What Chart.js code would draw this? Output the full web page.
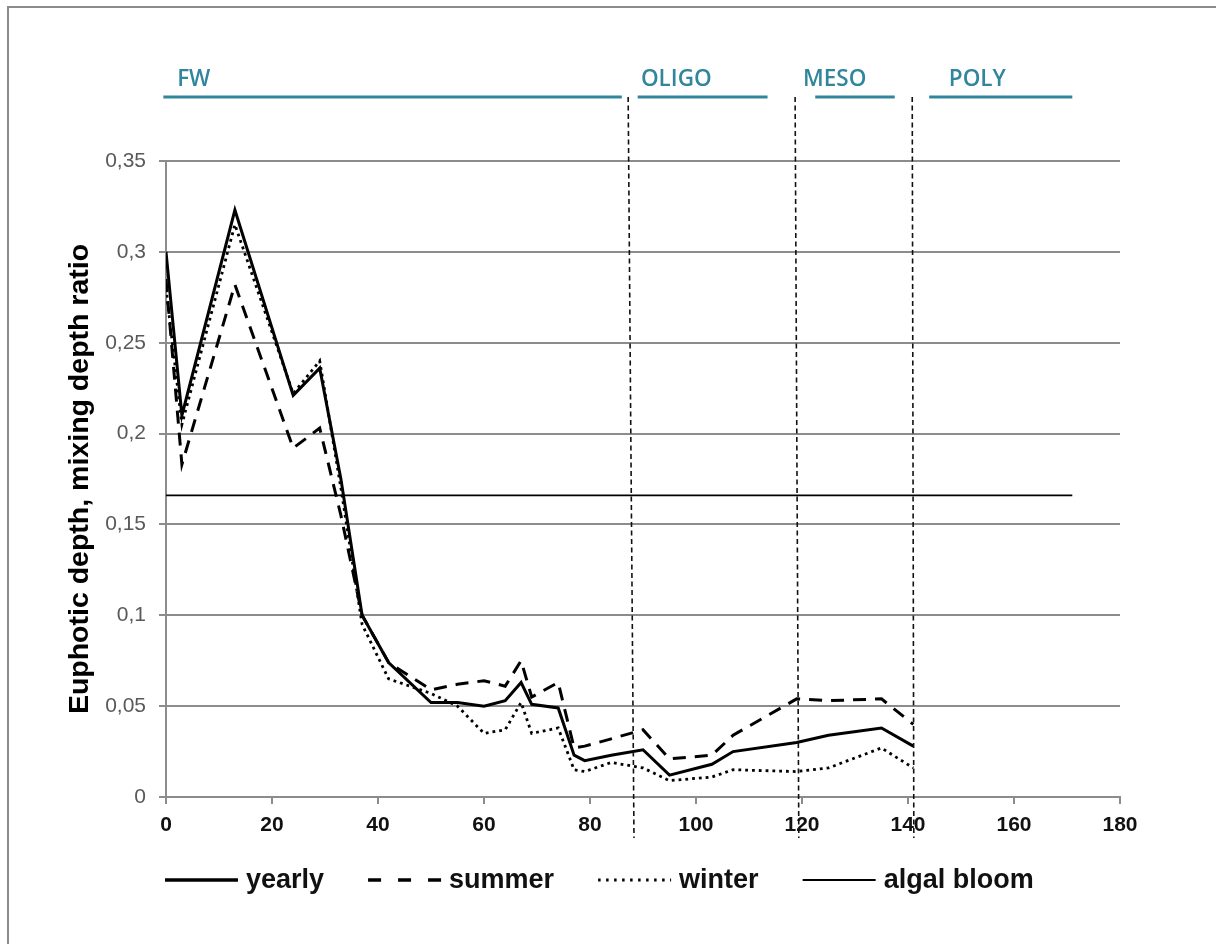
<!DOCTYPE html>
<html>
<head>
<meta charset="utf-8">
<script src="https://cdn.jsdelivr.net/npm/chart.js@4.4.1/dist/chart.umd.min.js"></script>
<style>
  body { margin: 0; background: #fff; }
  #wrap { position: relative; width: 1216px; height: 944px; overflow: hidden; }
  #frame { position: absolute; left: 7px; top: 6px; width: 1300px; height: 1000px; border: 2px solid #8c8c8c; pointer-events: none; }
</style>
</head>
<body>
<div id="wrap">
  <canvas id="chart"></canvas>
  <div id="frame"></div>
</div>
<script>
// distance along the estuary (x) and euphotic/mixing depth ratios
const distance = [0, 3, 13, 24, 29, 33, 37, 42, 50, 55, 60, 64, 67, 69, 74, 77, 79, 84, 90, 95, 103, 107, 119, 125, 135, 141];
const yearly = [0.300, 0.210, 0.323, 0.221, 0.236, 0.175, 0.100, 0.074, 0.052, 0.052, 0.050, 0.053, 0.063, 0.051, 0.049, 0.023, 0.020, 0.023, 0.026, 0.012, 0.018, 0.025, 0.030, 0.034, 0.038, 0.028];
const summer = [0.285, 0.183, 0.282, 0.192, 0.203, 0.155, 0.100, 0.074, 0.059, 0.062, 0.064, 0.061, 0.075, 0.055, 0.063, 0.027, 0.028, 0.032, 0.037, 0.021, 0.023, 0.034, 0.054, 0.053, 0.054, 0.040];
const winter = [0.280, 0.205, 0.315, 0.222, 0.240, 0.170, 0.095, 0.065, 0.057, 0.050, 0.035, 0.037, 0.052, 0.035, 0.038, 0.015, 0.014, 0.019, 0.016, 0.009, 0.011, 0.015, 0.014, 0.016, 0.027, 0.016];
const bloomX = [0, 171];
const bloomLevel = 0.166;

const yTickLabels = ['0', '0,05', '0,1', '0,15', '0,2', '0,25', '0,3', '0,35'];

// salinity zones on top of the plot
const zoneNames = ['FW', 'OLIGO', 'MESO', 'POLY'];
const zoneStart = [-0.5, 89, 122.5, 144];
const zoneEnd = [86, 113.5, 137.5, 171];
const zoneLabelX = [2.1, 89.6, 120.2, 147.7];
const boundaryTop = [87.2, 118.7, 140.8];
const boundaryBottom = [88.3, 119.4, 141.1];

const legendNames = ['yearly', 'summer', 'winter', 'algal bloom'];

function toPoints(xs, ys) {
  return xs.map((x, i) => ({ x: x, y: ys[i] }));
}

const FONT = 'Arial, "Liberation Sans", sans-serif';
Chart.defaults.font.family = FONT;

const zonesPlugin = {
  id: 'zones',
  afterDatasetsDraw(chart) {
    const ctx = chart.ctx;
    const xs = chart.scales.x;
    const area = chart.chartArea;
    const lineY = 97;
    ctx.save();
    // zone bars and names
    ctx.strokeStyle = '#31859c';
    ctx.fillStyle = '#31859c';
    ctx.lineWidth = 3;
    ctx.font = '600 22.5px "Open Sans", sans-serif';
    ctx.textBaseline = 'alphabetic';
    zoneNames.forEach((name, i) => {
      ctx.beginPath();
      ctx.moveTo(xs.getPixelForValue(zoneStart[i]), lineY);
      ctx.lineTo(xs.getPixelForValue(zoneEnd[i]), lineY);
      ctx.stroke();
      ctx.fillText(name, xs.getPixelForValue(zoneLabelX[i]), 86);
    });
    // dashed zone boundaries
    ctx.strokeStyle = '#111';
    ctx.lineWidth = 1.6;
    ctx.setLineDash([5, 3.5]);
    boundaryTop.forEach((v, i) => {
      ctx.beginPath();
      ctx.moveTo(xs.getPixelForValue(v), lineY);
      ctx.lineTo(xs.getPixelForValue(boundaryBottom[i]), area.bottom + 41);
      ctx.stroke();
    });
    ctx.restore();
  },
  afterDraw(chart) {
    // legend drawn in one row under the x axis
    const ctx = chart.ctx;
    ctx.save();
    ctx.font = 'bold 27px ' + FONT;
    ctx.textBaseline = 'alphabetic';
    let x = 165;
    const y = 880;
    const sampleDash = [[], [13, 17], [2.5, 5.5], []];
    const sampleWidth = [3.5, 3.5, 2.8, 2];
    legendNames.forEach((name, i) => {
      ctx.beginPath();
      ctx.strokeStyle = '#000';
      ctx.lineWidth = sampleWidth[i];
      ctx.setLineDash(sampleDash[i]);
      ctx.moveTo(x, y);
      ctx.lineTo(x + 73, y);
      ctx.stroke();
      ctx.fillStyle = '#111';
      ctx.fillText(name, x + 81, 888);
      x += 81 + ctx.measureText(name).width + 44;
    });
    ctx.restore();
  }
};

const ctx = document.getElementById('chart').getContext('2d');
const chart = new Chart(ctx, {
  type: 'line',
  data: {
    datasets: [
      {
        label: 'yearly',
        data: toPoints(distance, yearly),
        borderColor: '#000',
        borderWidth: 3,
        pointRadius: 0,
        tension: 0
      },
      {
        label: 'summer',
        data: toPoints(distance, summer),
        borderColor: '#000',
        borderWidth: 3,
        borderDash: [13, 9],
        pointRadius: 0,
        tension: 0
      },
      {
        label: 'winter',
        data: toPoints(distance, winter),
        borderColor: '#000',
        borderWidth: 2.8,
        borderDash: [2.8, 4],
        pointRadius: 0,
        tension: 0
      },
      {
        label: 'algal bloom',
        data: bloomX.map(x => ({ x: x, y: bloomLevel })),
        borderColor: '#000',
        borderWidth: 1.8,
        pointRadius: 0
      }
    ]
  },
  options: {
    responsive: true,
    maintainAspectRatio: false,
    animation: false,
    layout: {
      padding: { top: 161, right: 96, bottom: 0, left: 0 }
    },
    plugins: {
      legend: { display: false },
      tooltip: { enabled: false }
    },
    scales: {
      x: {
        type: 'linear',
        min: 0,
        max: 180,
        afterFit: s => { s.height = 147; },
        ticks: {
          stepSize: 20,
          padding: 9,
          color: '#111',
          font: { size: 21, weight: 'bold' }
        },
        grid: {
          drawOnChartArea: false,
          drawTicks: true,
          tickLength: 7,
          color: '#8c8c8c',
          lineWidth: 2
        },
        border: { color: '#8c8c8c', width: 2 }
      },
      y: {
        min: 0,
        max: 0.35,
        afterFit: s => { s.width = 166; },
        ticks: {
          stepSize: 0.05,
          padding: 13,
          color: '#595959',
          font: { size: 21 },
          callback: (v, i) => yTickLabels[i]
        },
        grid: {
          color: '#8c8c8c',
          lineWidth: 2,
          tickLength: 7
        },
        border: { color: '#8c8c8c', width: 2 },
        title: {
          display: true,
          text: 'Euphotic depth, mixing depth ratio',
          color: '#000',
          font: { size: 28.5, weight: 'bold' },
          padding: { top: 63, bottom: 0 }
        }
      }
    }
  },
  plugins: [zonesPlugin]
});
</script>
</body>
</html>
